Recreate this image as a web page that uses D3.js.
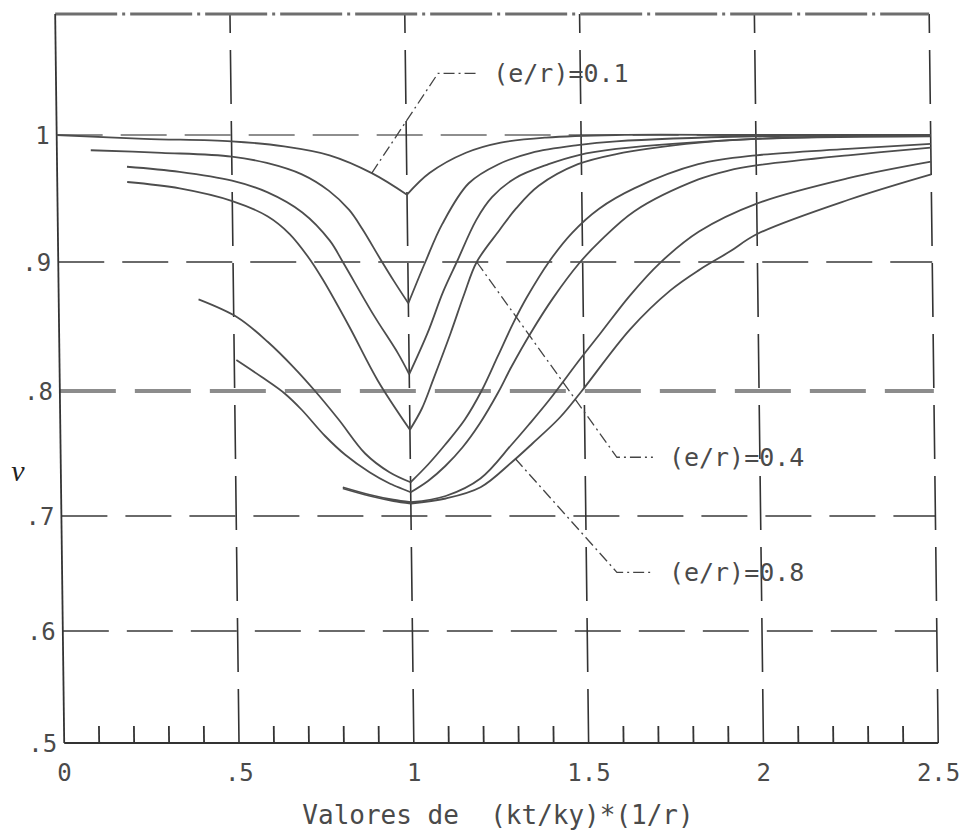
<!DOCTYPE html>
<html>
<head>
<meta charset="utf-8">
<script src="https://cdn.jsdelivr.net/npm/d3@7"></script>
<style>
  body { margin: 0; background: #fff; }
  text { font-family: "DejaVu Sans Mono", "Liberation Mono", monospace; fill: #4a4a4a; }
</style>
</head>
<body>
<svg id="chart" width="964" height="836"></svg>
<script>
// e/r value of each curve
const ratios = [0.1, 0.2, 0.3, 0.4, 0.5, 0.6, 0.7, 0.8];

// ν against (kt/ky)*(1/r) for each e/r; every curve has its cusp at x = 1
const curveE01 = [[0,1.0],[0.25,0.997],[0.5,0.995],[0.65,0.991],[0.78,0.984],[0.9,0.970],[1.0,0.953],
  [1.065,0.970],[1.17,0.986],[1.27,0.994],[1.4,0.998],[1.6,1.0],[2.0,1.0],[2.5,1.0]];
const curveE02 = [[0.097,0.988],[0.3,0.986],[0.5,0.983],[0.6,0.978],[0.7,0.969],[0.777,0.956],[0.834,0.941],
  [0.871,0.926],[0.92,0.903],[0.96,0.885],[1.0,0.868],
  [1.05,0.90],[1.10,0.93],[1.177,0.962],[1.263,0.977],[1.357,0.986],[1.49,0.992],[1.6,0.995],[2.0,0.999],[2.5,1.0]];
const curveE03 = [[0.2,0.975],[0.35,0.971],[0.5,0.964],[0.6,0.955],[0.7,0.939],[0.777,0.917],[0.814,0.90],
  [0.9,0.859],[0.969,0.829],[1.0,0.813],
  [1.054,0.845],[1.10,0.877],[1.14,0.90],[1.197,0.933],[1.243,0.951],[1.31,0.966],[1.406,0.977],[1.49,0.984],
  [1.6,0.989],[2.0,0.997],[2.5,1.0]];
const curveE04 = [[0.2,0.963],[0.35,0.958],[0.5,0.948],[0.6,0.936],[0.663,0.922],[0.72,0.902],[0.757,0.886],
  [0.83,0.850],[0.91,0.808],[1.0,0.769],
  [1.035,0.786],[1.07,0.81],[1.12,0.845],[1.16,0.875],[1.197,0.90],[1.263,0.925],[1.311,0.942],[1.377,0.96],
  [1.49,0.977],[1.6,0.985],[1.8,0.993],[2.0,0.997],[2.5,0.999]];
const curveE05 = [[0.40,0.871],[0.511,0.857],[0.597,0.838],[0.671,0.818],[0.73,0.80],[0.797,0.777],[0.871,0.750],
  [0.94,0.735],[1.0,0.727],
  [1.05,0.741],[1.1,0.757],[1.157,0.777],[1.206,0.80],[1.254,0.827],[1.30,0.853],[1.34,0.873],[1.406,0.901],
  [1.471,0.923],[1.549,0.942],[1.65,0.958],[1.834,0.977],[2.0,0.984],[2.263,0.989],[2.5,0.993]];
const curveE06 = [[0.506,0.824],[0.577,0.811],[0.643,0.798],[0.691,0.785],[0.757,0.764],[0.814,0.749],[0.883,0.735],
  [0.94,0.726],[1.0,0.719],
  [1.05,0.728],[1.1,0.740],[1.15,0.755],[1.2,0.774],[1.254,0.799],[1.291,0.818],[1.349,0.845],[1.414,0.872],
  [1.49,0.899],[1.549,0.916],[1.65,0.940],[1.834,0.965],[1.92,0.972],[2.0,0.976],[2.263,0.984],[2.5,0.990]];
const curveE07 = [[0.806,0.723],[0.883,0.717],[0.95,0.713],[1.0,0.711],
  [1.1,0.716],[1.2,0.730],[1.29,0.757],[1.34,0.773],[1.4,0.793],[1.49,0.825],[1.549,0.845],[1.634,0.874],
  [1.72,0.899],[1.834,0.924],[2.0,0.946],[2.263,0.966],[2.5,0.979]];
const curveE08 = [[0.806,0.722],[0.883,0.716],[0.95,0.712],[1.0,0.710],
  [1.1,0.714],[1.2,0.723],[1.29,0.743],[1.35,0.758],[1.43,0.779],[1.49,0.799],[1.634,0.848],[1.75,0.878],
  [1.834,0.894],[1.92,0.908],[2.0,0.922],[2.263,0.949],[2.5,0.969]];

const curves = [curveE01, curveE02, curveE03, curveE04, curveE05, curveE06, curveE07, curveE08];

// axis ticks
const xTicks = [0, 0.5, 1, 1.5, 2, 2.5];
const xTickLabels = ["0", ".5", "1", "1.5", "2", "2.5"];
const yTicks = [0.5, 0.6, 0.7, 0.8, 0.9, 1.0];
const yTickLabels = [".5", ".6", ".7", ".8", ".9", "1"];
const xTitle = "Valores de  (kt/ky)*(1/r)";
const yTitle = "ν";

// callouts: which curve, and the leader's bend and end (data units)
const callouts = [
  { ratio: 0.1, from: [0.9, 0.970],  bend: [1.093, 1.051], end: [1.205, 1.051] },
  { ratio: 0.4, from: [1.197, 0.90], bend: [1.591, 0.747], end: [1.694, 0.747] },
  { ratio: 0.8, from: [1.30, 0.746], bend: [1.587, 0.651], end: [1.69, 0.651] }
];

const svg = d3.select("#chart");

const x = d3.scaleLinear().domain([0, 2.5]).range([55, 929]);
// plotter output is slightly uneven between gridlines
const y = d3.scaleLinear()
  .domain([0.5, 0.6, 0.7, 0.8, 0.9, 1.0, 1.1])
  .range([743, 631, 516, 391, 262, 135, 14]);

// the frame leans a little to the right towards the bottom
const lean = 0.0124;
const sx = (v, py) => x(v) + lean * py;

const plot = svg.append("g")
  .attr("transform", `skewX(${Math.atan(lean) * 180 / Math.PI})`);

const x0 = 0, x1 = 2.5, y0 = 0.5, y1 = 1.1;
const isHeavy = d => Math.abs(d - 0.8) < 1e-9;

// horizontal dashed gridlines
plot.selectAll("line.hgrid")
  .data(yTicks.filter(v => v > 0.5))
  .join("line")
  .attr("x1", x(x0)).attr("x2", x(x1))
  .attr("y1", d => y(d)).attr("y2", d => y(d))
  .attr("stroke", d => isHeavy(d) ? "#8c8c8c" : (d === 1 ? "#6a6a6a" : "#3a3a3a"))
  .attr("stroke-width", d => isHeavy(d) ? 4 : 1.6)
  .attr("stroke-dasharray", d => isHeavy(d) ? "56,19" : "46,18");

// vertical dashed gridlines (including the right edge)
plot.selectAll("line.vgrid")
  .data(xTicks.filter(v => v > 0))
  .join("line")
  .attr("x1", d => x(d)).attr("x2", d => x(d))
  .attr("y1", y(y0)).attr("y2", y(y1))
  .attr("stroke", "#333")
  .attr("stroke-width", 1.6)
  .attr("stroke-dasharray", "54,17");

// top edge
plot.append("line")
  .attr("x1", x(x0)).attr("x2", x(x1))
  .attr("y1", y(y1)).attr("y2", y(y1))
  .attr("stroke", "#6e6e6e").attr("stroke-width", 3.2)
  .attr("stroke-dasharray", "62,5,3,5");

// left edge and bottom axis
plot.append("line")
  .attr("x1", x(x0)).attr("x2", x(x0))
  .attr("y1", y(y1)).attr("y2", y(y0))
  .attr("stroke", "#333").attr("stroke-width", 1.8);
plot.append("line")
  .attr("x1", x(x0)).attr("x2", x(x1))
  .attr("y1", y(y0)).attr("y2", y(y0))
  .attr("stroke", "#333").attr("stroke-width", 2);

// minor ticks every 0.1 along the bottom
const minorTicks = d3.range(1, 25).map(i => i / 10).filter(v => Math.abs(v * 2 - Math.round(v * 2)) > 1e-6);
plot.selectAll("line.minor")
  .data(minorTicks)
  .join("line")
  .attr("x1", d => x(d)).attr("x2", d => x(d))
  .attr("y1", y(y0)).attr("y2", y(y0) - 17)
  .attr("stroke", "#333").attr("stroke-width", 1.8);

// curves: each arm drawn separately so the cusp at x = 1 stays sharp
const line = d3.line().x(d => x(d[0])).y(d => y(d[1])).curve(d3.curveCatmullRom.alpha(0.5));
curves.forEach((pts, i) => {
  const left = pts.filter(p => p[0] <= 1);
  const right = pts.filter(p => p[0] >= 1);
  [left, right].forEach(arm => {
    if (arm.length < 2) return;
    plot.append("path")
      .attr("class", "curve er" + ratios[i])
      .attr("d", line(arm))
      .attr("fill", "none")
      .attr("stroke", "#4d4d4d")
      .attr("stroke-width", 1.8)
      .attr("stroke-linejoin", "round");
  });
});

// leader lines
callouts.forEach(c => {
  plot.append("path")
    .attr("d", d3.line().x(d => x(d[0])).y(d => y(d[1]))([c.from, c.bend, c.end]))
    .attr("fill", "none")
    .attr("stroke", "#444")
    .attr("stroke-width", 1.3)
    .attr("stroke-dasharray", "11,4,2,4");
});

// text layer
const labels = svg.append("g");

labels.selectAll("text.ytick")
  .data(yTicks)
  .join("text")
  .attr("x", (d) => sx(0, y(d)) - 7)
  .attr("y", d => y(d))
  .attr("dy", "0.36em")
  .attr("text-anchor", "end")
  .attr("font-size", 24)
  .text((d, i) => yTickLabels[i]);

labels.selectAll("text.xtick")
  .data(xTicks)
  .join("text")
  .attr("x", d => sx(d, 772))
  .attr("y", 772)
  .attr("dy", "0.36em")
  .attr("text-anchor", "middle")
  .attr("font-size", 24)
  .text((d, i) => xTickLabels[i]);

labels.append("text")
  .attr("x", 498).attr("y", 815)
  .attr("dy", "0.36em")
  .attr("text-anchor", "middle")
  .attr("font-size", 26)
  .style("white-space", "pre")
  .text(xTitle);

labels.append("text")
  .attr("x", 18).attr("y", 472)
  .attr("dy", "0.3em")
  .attr("text-anchor", "middle")
  .style("font-family", "'Liberation Serif', 'DejaVu Serif', serif")
  .style("font-style", "italic")
  .style("fill", "#222")
  .attr("font-size", 30)
  .text(yTitle);

callouts.forEach(c => {
  const py = y(c.end[1]);
  labels.append("text")
    .attr("x", sx(c.end[0], py) + 16)
    .attr("y", py)
    .attr("dy", "0.36em")
    .attr("font-size", 25)
    .text(`(e/r)=${c.ratio.toFixed(1)}`);
});
</script>
</body>
</html>
